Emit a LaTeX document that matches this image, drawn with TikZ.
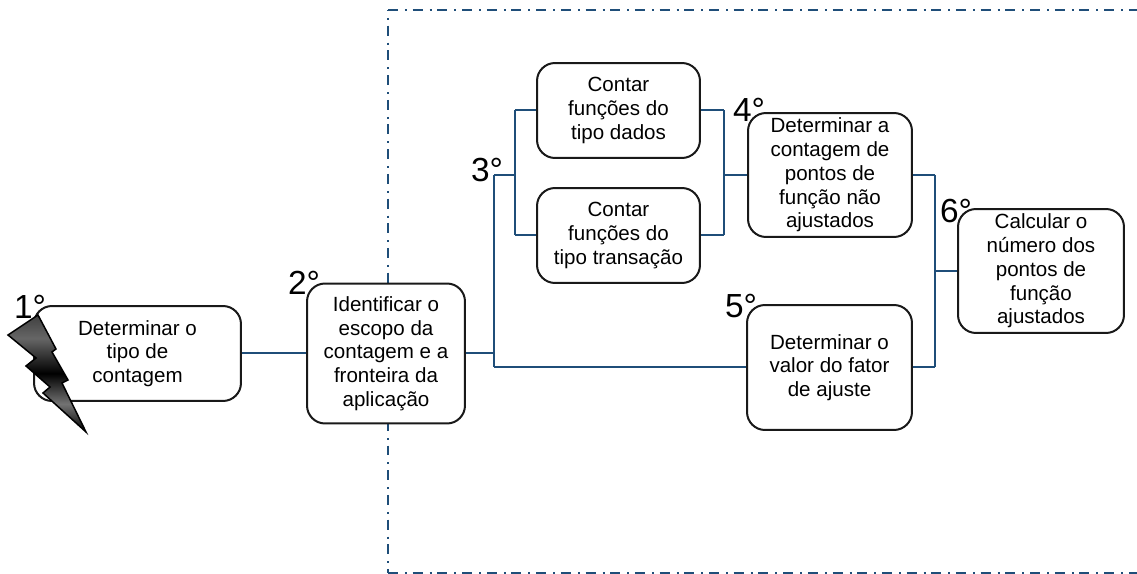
\documentclass[tikz,border=0pt]{standalone}
\usepackage{fontspec}
\setmainfont{Liberation Sans}
\definecolor{linkblue}{HTML}{1F4E79}
\pgfdeclareverticalshading{boltshade}{100bp}{color(0bp)=(black);color(25bp)=(black);color(37bp)=(black!55);color(50bp)=(black);color(65bp)=(black!60);color(75bp)=(black!75);color(100bp)=(black!75)}
\begin{document}
\begin{tikzpicture}
    [x=0.02cm,y=-0.02cm,
    font=\fontsize{11.7}{13.5}\selectfont,
    box/.style={shape=rectangle,draw=black!90,fill=white,rounded corners=0.36cm,line width=0.04cm,align=center,inner sep=0pt,execute at begin node=\rule{0pt}{10pt}},
    num/.style={font=\fontsize{19}{22}\selectfont,inner sep=0pt},
    link/.style={draw=linkblue,line width=0.04cm},
    border/.style={draw=linkblue,line width=0.04cm,dash pattern=on 0.2cm off 0.14cm on 0.04cm off 0.114cm}]

    \useasboundingbox (0,0) rectangle (1137,574);

    \coordinate (tl) at (388,10);
    \coordinate (tr) at (1137,10);
    \coordinate (bl) at (388,573);
    \coordinate (br) at (1137,573);
    \draw [border] (tl) -- (tr);
    \draw [border,dash phase=0.18cm] (tl) -- (bl);
    \draw [border] (bl) -- (br);

    \node (tipo) [box,minimum width=4.14cm,minimum height=1.9cm] at (137.5,353.5) {Determinar o\\tipo de\\contagem};
    \node (escopo) [box,minimum width=3.16cm,minimum height=2.8cm] at (386,353.5) {Identificar o\\escopo da\\contagem e a\\fronteira da\\aplicação};
    \node (dados) [box,minimum width=3.26cm,minimum height=1.9cm] at (618.5,110.5) {Contar\\funções do\\tipo dados};
    \node (transacao) [box,minimum width=3.26cm,minimum height=1.9cm] at (618.5,235.5) {Contar\\funções do\\tipo transação};
    \node (naoajust) [box,minimum width=3.28cm,minimum height=2.48cm] at (830,175) {Determinar a\\contagem de\\pontos de\\função não\\ajustados};
    \node (fator) [box,minimum width=3.3cm,minimum height=2.5cm] at (829.5,367.5) {Determinar o\\valor do fator\\de ajuste};
    \node (ajust) [box,minimum width=3.32cm,minimum height=2.48cm] at (1041,271) {Calcular o\\número dos\\pontos de\\função\\ajustados};

    \coordinate (j1) at (494,353.5);
    \coordinate (j1t) at (494,175);
    \coordinate (j1b) at (494,367);
    \coordinate (j2) at (515,175);
    \coordinate (j2t) at (515,110.5);
    \coordinate (j2b) at (515,235.5);
    \coordinate (j3) at (724,175);
    \coordinate (j3t) at (724,110.5);
    \coordinate (j3b) at (724,235.5);
    \coordinate (j4) at (935,271);
    \coordinate (j4t) at (935,175);
    \coordinate (j4b) at (935,367.5);

    \draw [link] (tipo) -- (escopo);
    \draw [link] (escopo) -- (j1);
    \draw [link] (j1t) -- (j1b);
    \draw [link] (j1b) -- (fator.west |- j1b);
    \draw [link] (j1t) -- (j2);
    \draw [link] (j2t) -- (j2b);
    \draw [link] (j2t) -- (dados);
    \draw [link] (j2b) -- (transacao);
    \draw [link] (dados) -- (j3t);
    \draw [link] (transacao) -- (j3b);
    \draw [link] (j3t) -- (j3b);
    \draw [link] (j3) -- (naoajust);
    \draw [link] (naoajust) -- (j4t);
    \draw [link] (fator) -- (j4b);
    \draw [link] (j4t) -- (j4b);
    \draw [link] (j4) -- (ajust);

    % raio
    \draw [draw=black,line width=0.03cm,shading=boltshade,line join=miter]
      (38,315) -- (8,335) -- (36,358) -- (26,366) -- (50,387) -- (43,393) -- (86,432)
      -- (62,383) -- (68,380) -- (52,352) -- (56,349) -- cycle;

    \node (n1) [num] at (30,307) {1°};
    \node (n2) [num] at (304,283) {2°};
    \node (n3) [num] at (487,170) {3°};
    \node (n4) [num] at (749,110) {4°};
    \node (n5) [num] at (741,306) {5°};
    \node (n6) [num] at (956,211) {6°};
\end{tikzpicture}
\end{document}
